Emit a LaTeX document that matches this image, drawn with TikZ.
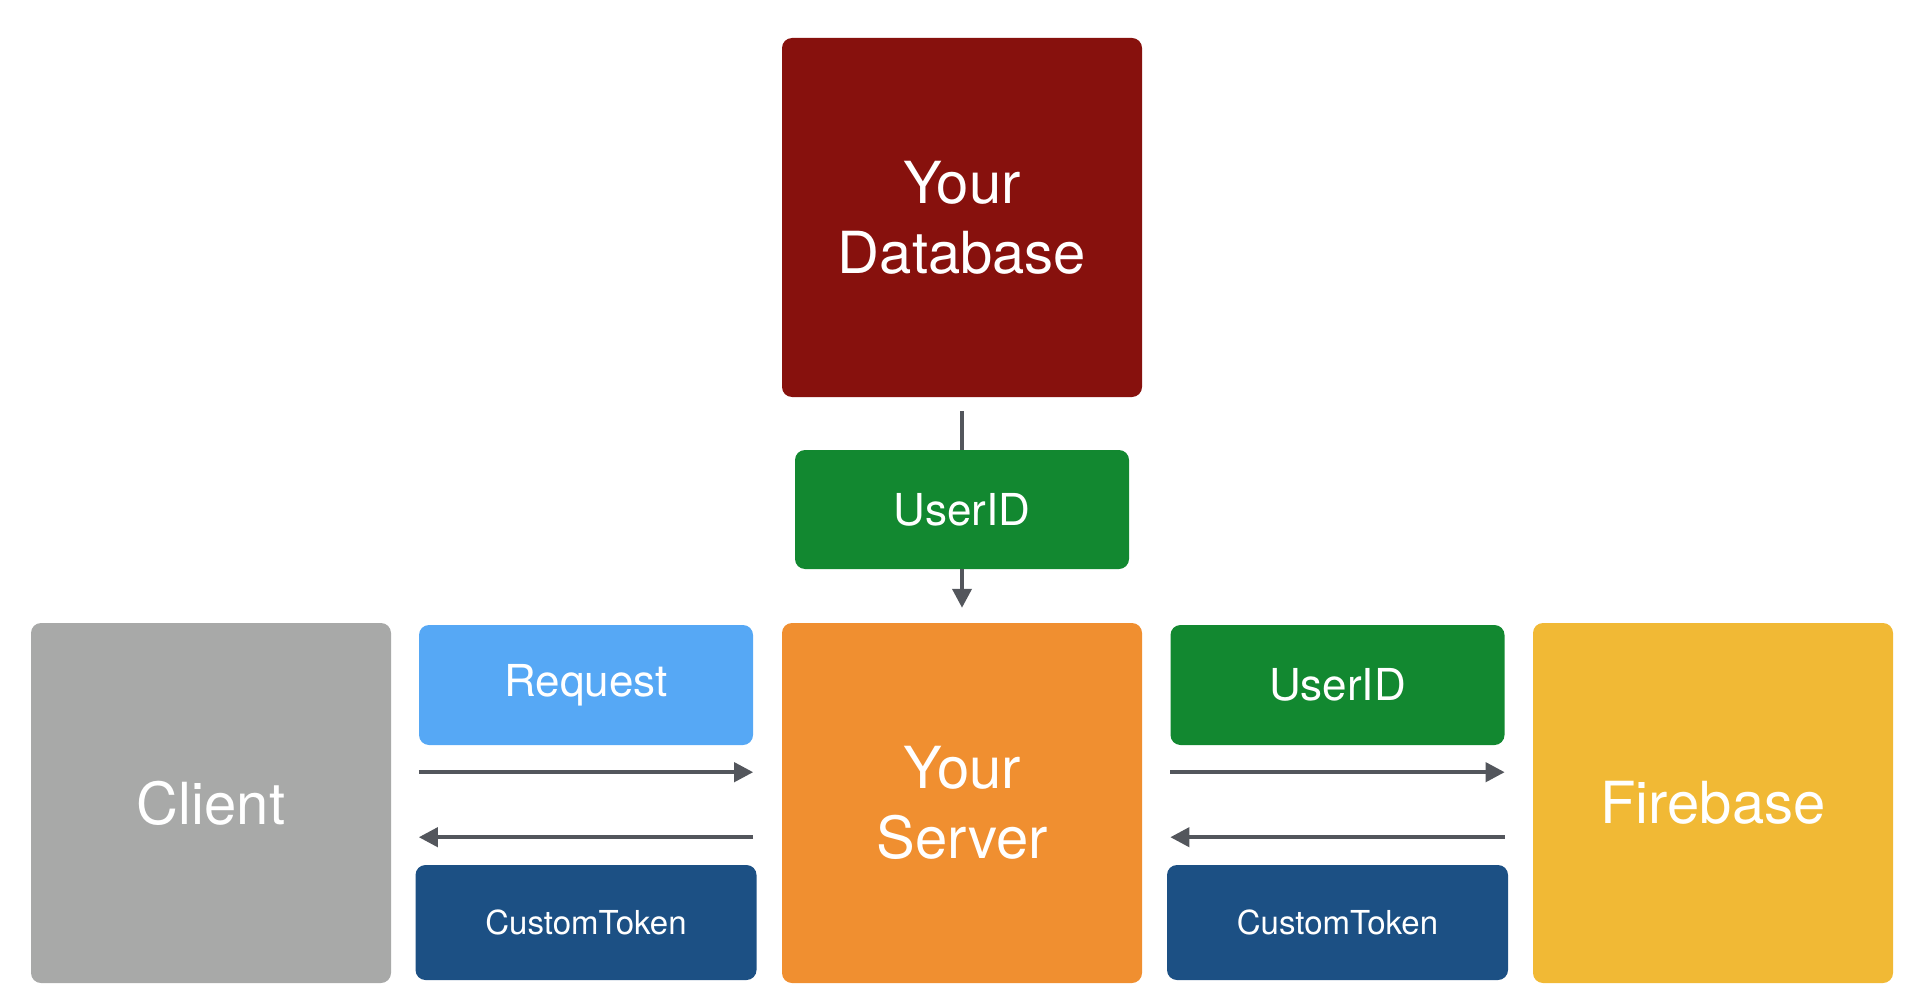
\documentclass[tikz,border=0pt]{standalone}
\usepackage{fontspec}
\setmainfont{TeX Gyre Heros}
\usetikzlibrary{arrows.meta,positioning}
\definecolor{dbred}{HTML}{87110D}
\definecolor{idgreen}{HTML}{128830}
\definecolor{cligray}{HTML}{A8A9A8}
\definecolor{reqblue}{HTML}{56A8F5}
\definecolor{srvorange}{HTML}{F08F30}
\definecolor{tokblue}{HTML}{1C5084}
\definecolor{fbyellow}{HTML}{F1B935}
\definecolor{flowgray}{HTML}{53565C}
\tikzset{
  bigbox/.style={rounded corners=10pt, minimum width=360pt, minimum height=360pt,
    text=white, align=center, font=\fontsize{58}{70}\selectfont},
  tag/.style={rounded corners=10pt, minimum width=334pt, minimum height=120pt,
    text=white, font=\fontsize{44}{52}\selectfont},
  tok/.style={rounded corners=10pt, minimum width=341pt, minimum height=115pt,
    text=white, font=\fontsize{33}{40}\selectfont, fill=tokblue},
  flow/.style={draw=flowgray, line width=4pt},
  flowarrow/.style={flow, -{Triangle[length=19pt,width=19pt]}}
}
\begin{document}
\begin{tikzpicture}[x=1pt,y=-1pt]
\useasboundingbox (0,0) rectangle (1922,1008);
\node (db)   at (962,217.5) [bigbox, fill=dbred, minimum height=359pt] {Your\\Database};
\node (uid)  at (962,509.5) [tag, fill=idgreen, minimum height=119pt] {UserID};
\node (cli)  at (211,803)   [bigbox, fill=cligray] {Client};
\node (srv)  at (962,803)   [bigbox, fill=srvorange] {Your\\Server};
\node (fb)   at (1713,803)  [bigbox, fill=fbyellow] {Firebase};
\node (req)  at (586,685)   [tag, fill=reqblue] {Request};
\node (uid2) at (1337.5,685) [tag, fill=idgreen] {UserID};
\node (tok)  at (586,922.5) [tok] {CustomToken};
\node (tok2) at (1337.5,922.5) [tok] {CustomToken};
\draw [flow] ([yshift=-14pt]db.south) -- (uid.north);
\draw [flowarrow] (uid.south) -- ([yshift=15pt]srv.north);
\draw [flowarrow] ([yshift=-27pt]req.south west) -- ([yshift=-27pt]req.south east);
\draw [flowarrow] ([yshift=-92pt]req.south east) -- ([yshift=-92pt]req.south west);
\draw [flowarrow] ([yshift=-27pt]uid2.south west) -- ([yshift=-27pt]uid2.south east);
\draw [flowarrow] ([yshift=-92pt]uid2.south east) -- ([yshift=-92pt]uid2.south west);
\end{tikzpicture}
\end{document}
